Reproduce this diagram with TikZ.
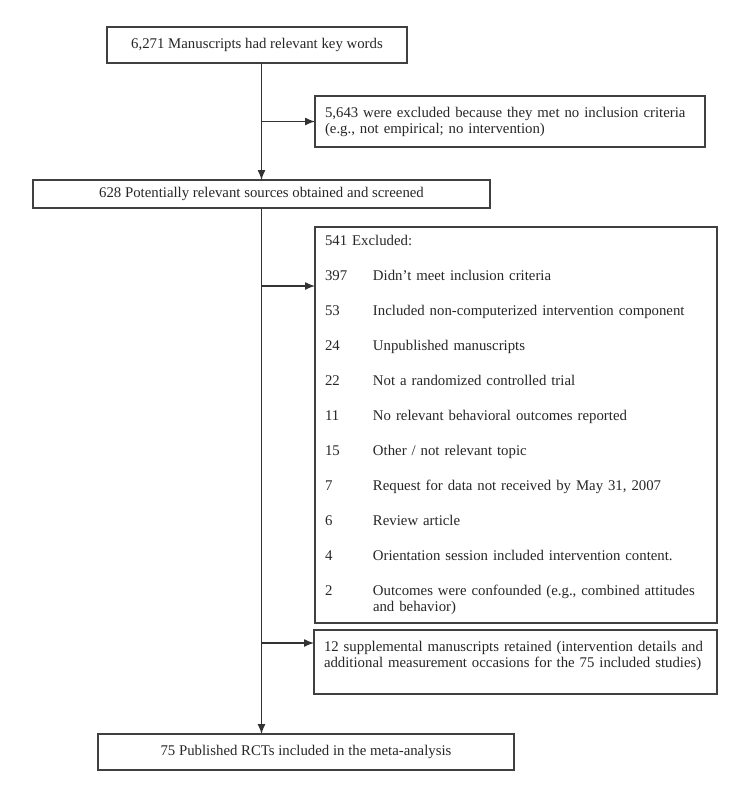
\documentclass[tikz,border=0pt]{standalone}
\usepackage{fontspec}
\setmainfont{Liberation Serif}
\usetikzlibrary{arrows.meta}

\newcommand{\nrcol}[1]{\makebox[48pt][l]{#1}}

\begin{document}
\begin{tikzpicture}[x=1pt,y=-1pt,>={Latex[length=10pt,width=8pt]},line width=1.3pt,
    font=\fontsize{14.8}{16}\selectfont,text=black!85,
    box/.style={draw=black!75, rectangle, inner sep=0pt, outer sep=0pt, anchor=north west},
    textbox/.style={box, align=left, inner xsep=10pt}]

    \useasboundingbox (0,0) rectangle (750,801);

    \node[box, minimum width=300pt, minimum height=36pt] (kw) at (107,27)
    {6,271 Manuscripts had relevant key words};

    \node[textbox, minimum width=390pt, minimum height=51pt, text width=370pt] (excl1) at (315,96)
    {5,643 were excluded because they met no inclusion criteria\\(e.g., not empirical; no intervention)};

    \node[box, minimum width=457pt, minimum height=28pt] (screen) at (33,180)
    {628 Potentially relevant sources obtained and screened};

    %------------------------------------------------

    \node[textbox, minimum width=402pt, minimum height=396pt, text width=382pt] (excl2) at (315,227)
    {541 Excluded:\\[19pt]
     \nrcol{397}Didn't meet inclusion criteria\\[19pt]
     \nrcol{53}Included non-computerized intervention component\\[19pt]
     \nrcol{24}Unpublished manuscripts\\[19pt]
     \nrcol{22}Not a randomized controlled trial\\[19pt]
     \nrcol{11}No relevant behavioral outcomes reported\\[19pt]
     \nrcol{15}Other / not relevant topic\\[19pt]
     \nrcol{7}Request for data not received by May 31, 2007\\[19pt]
     \nrcol{6}Review article\\[19pt]
     \nrcol{4}Orientation session included intervention content.\\[19pt]
     \nrcol{2}Outcomes were confounded (e.g., combined attitudes\\
     \nrcol{}and behavior)};

    \node[textbox, minimum width=403pt, minimum height=64pt, text width=383pt] (supp) at (314,630)
    {12 supplemental manuscripts retained (intervention details and\\additional measurement occasions for the 75 included studies)\\\mbox{}};

    \node[box, minimum width=416pt, minimum height=36pt] (final) at (98,734)
    {75 Published RCTs included in the meta-analysis};

    %------------------------------------------------

    \coordinate (in2) at (315,286);
    \coordinate (in3) at (314,643);

    \path[->,color=black!80]
    {
        (kw.south -| screen.north) edge (screen.north)
        (excl1.west -| screen.north) edge (excl1.west)
        (screen.south) edge (screen.south |- final.north)
        (screen.south |- in2) edge (in2)
        (screen.south |- in3) edge (in3)
    };
\end{tikzpicture}
\end{document}
